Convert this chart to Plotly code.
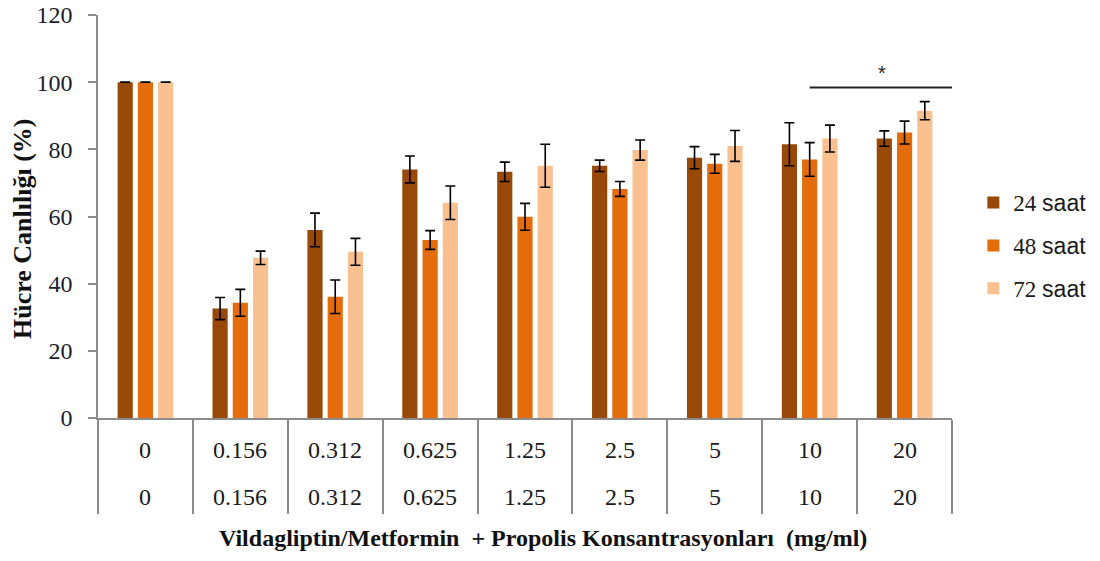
import plotly.graph_objects as go

# ---- data ----
categories = ["0", "0.156", "0.312", "0.625", "1.25", "2.5", "5", "10", "20"]
row1_labels = ["0", "0.156", "0.312", "0.625", "1.25", "2.5", "5", "10", "20"]
row2_labels = ["0", "0.156", "0.312", "0.625", "1.25", "2.5", "5", "10", "20"]
series_names = ["24 saat", "48 saat", "72 saat"]
v24 = [100, 32.6, 56.0, 74.0, 73.3, 75.1, 77.5, 81.5, 83.2]
e24 = [0, 3.3, 5.0, 4.0, 2.9, 1.7, 3.3, 6.4, 2.3]
v48 = [100, 34.3, 36.1, 53.0, 59.9, 68.2, 75.7, 77.0, 85.0]
e48 = [0, 4.0, 5.0, 2.8, 4.0, 2.2, 2.8, 5.0, 3.4]
v72 = [100, 47.7, 49.5, 64.1, 75.1, 79.8, 81.0, 83.2, 91.5]
e72 = [0, 2.0, 4.0, 5.0, 6.4, 3.0, 4.6, 4.0, 2.7]
y_ticks = [0, 20, 40, 60, 80, 100, 120]
sig_from, sig_to, sig_level = 7, 8.5, 98.4
sig_text = "*"

colors = ["#984807", "#E46C0A", "#FAC090"]
SERIF = "Liberation Serif, Times New Roman, serif"
SANS = "Liberation Sans, Arial, sans-serif"

fig = go.Figure()
for name, vals, errs, col in zip(series_names, [v24, v48, v72], [e24, e48, e72], colors):
    num, word = name.split(" ")
    fig.add_trace(go.Bar(
        x=categories, y=vals, name=f'{num} <span style="font-family:{SANS}">{word}</span>',
        legendgroup=name,
        marker=dict(color=col, line=dict(width=0)),
        error_y=dict(type="data", array=errs, visible=True, color="#000000",
                     thickness=1.6, width=5),
    ))

# page has an 8px body margin; figure is sized to fit the 1100x561 window
fig.update_layout(
    width=1092, height=553,
    paper_bgcolor="white", plot_bgcolor="white",
    margin=dict(l=90, r=148, t=7, b=143, autoexpand=False),
    barmode="group", bargap=0.36, bargroupgap=0.25,
    font=dict(family=SERIF, color="#1a1a1a", size=20),
    showlegend=True,
    legend=dict(x=1.025, xanchor="left", y=0.588, yanchor="top",
                font=dict(family=SERIF, size=23, color="#1a1a1a"),
                traceorder="grouped", tracegroupgap=10,
                bgcolor="rgba(0,0,0,0)"),
    xaxis=dict(type="category", range=[-0.5, 8.5], showline=True, linecolor="#8c8c8c",
               linewidth=1.5, showgrid=False, zeroline=False, automargin=False,
               ticks="outside", tickson="boundaries", ticklen=94, tickcolor="#8c8c8c",
               tickwidth=1.5, showticklabels=False, fixedrange=True),
    yaxis=dict(range=[0, 120], tickvals=y_ticks, showline=True, linecolor="#8c8c8c",
               linewidth=1.5, showgrid=False, zeroline=False, ticks="outside",
               automargin=False, ticklabelstandoff=11, ticklabeloverflow="allow",
               ticklen=8, tickcolor="#8c8c8c", tickwidth=1.5,
               tickfont=dict(family=SERIF, size=24, color="#1c1c2c")),
)

ann = []
for i, (a, b) in enumerate(zip(row1_labels, row2_labels)):
    ann.append(dict(x=i, y=-0.0794, xref="x", yref="paper", text=a, showarrow=False,
                    font=dict(family=SERIF, size=24, color="#1a1a1a"), yanchor="middle"))
    ann.append(dict(x=i, y=-0.196, xref="x", yref="paper", text=b, showarrow=False,
                    font=dict(family=SERIF, size=24, color="#1a1a1a"), yanchor="middle"))
ann.append(dict(x=0.521, y=-0.298, xref="paper", yref="paper",
                text="<b>Vildagliptin/Metformin  + Propolis Konsantrasyonları  (mg/ml)</b>",
                showarrow=False, font=dict(family=SERIF, size=24, color="#111111"),
                yanchor="middle"))
ann.append(dict(x=-0.0878, y=0.469, xref="paper", yref="paper", textangle=-90,
                text="<b>Hücre Canlılığı (%)</b>", showarrow=False,
                font=dict(family=SERIF, size=26, color="#111111"),
                xanchor="center", yanchor="middle"))
ann.append(dict(x=7.76, y=102.6, xref="x", yref="y", text=sig_text, showarrow=False,
                font=dict(family=SANS, size=20, color="#222222")))
fig.update_layout(annotations=ann)

fig.add_shape(type="line", xref="x", yref="y", x0=sig_from, x1=sig_to,
              y0=sig_level, y1=sig_level, line=dict(color="#222222", width=2))

fig.write_html("out.html")
